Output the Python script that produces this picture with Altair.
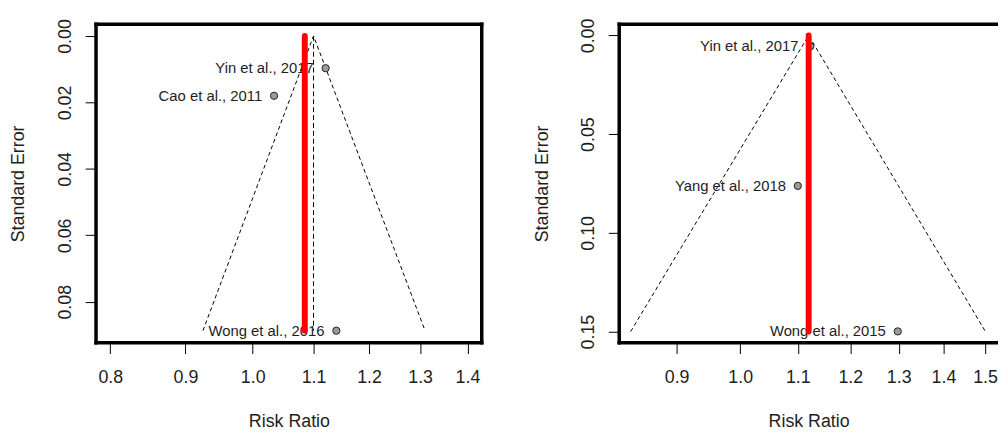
import altair as alt
import pandas as pd

FONT = "Liberation Sans"

# ---------------- Panel A ----------------
a_study = ["Yin et al., 2017", "Cao et al., 2011", "Wong et al., 2016"]
a_rr = [1.121, 1.034, 1.140]
a_se = [0.0097, 0.0180, 0.0887]
a_funnel_rr = [0.925, 1.100, 1.310]
a_funnel_se = [0.0887, 0.0, 0.0887]
a_center = 1.100
a_pooled = 1.085
a_semax = 0.0887
a_xticks = [0.8, 0.9, 1.0, 1.1, 1.2, 1.3, 1.4]
a_yticks = [0.00, 0.02, 0.04, 0.06, 0.08]

# ---------------- Panel B ----------------
b_study = ["Yin et al., 2017", "Yang et al., 2018", "Wong et al., 2015"]
b_rr = [1.123, 1.100, 1.298]
b_se = [0.0055, 0.0762, 0.1499]
b_funnel_rr = [0.834, 1.120, 1.501]
b_funnel_se = [0.150, 0.0, 0.150]
b_center = 1.120
b_pooled = 1.120
b_semax = 0.150
b_xticks = [0.9, 1.0, 1.1, 1.2, 1.3, 1.4, 1.5]
b_yticks = [0.00, 0.05, 0.10, 0.15]


def panel(study, rr, se, f_rr, f_se, center, pooled, semax,
          xdom, ydom, xticks, yticks, width, height, right_border=True):
    pts = pd.DataFrame({"study": study, "rr": rr, "se": se})
    fun = pd.DataFrame({"rr": f_rr, "se": f_se, "k": list(range(len(f_rr)))})
    ref = pd.DataFrame({"rr": [center], "s0": [0.0], "s1": [semax]})
    pool = pd.DataFrame({"rr": [pooled], "s0": [0.0], "s1": [semax]})

    xs = alt.Scale(type="log", domain=xdom, nice=False, zero=False)
    ys = alt.Scale(domain=ydom, reverse=True, nice=False, zero=False)
    xaxis = alt.Axis(values=xticks, format=".1f", title="Risk Ratio",
                     labelBaseline="top", labelPadding=15, labelFlush=False,
                     labelOverlap=False, titlePadding=27)
    yaxis = alt.Axis(values=yticks, format=".2f", title="Standard Error",
                     labelAngle=-90, labelAlign="center", labelBaseline="alphabetic",
                     labelPadding=15, labelFlush=False, labelOverlap=False,
                     titlePadding=29)

    funnel = alt.Chart(fun).mark_line(color="black", strokeWidth=1, strokeDash=[4, 3]).encode(
        x=alt.X("rr:Q", scale=xs, axis=xaxis),
        y=alt.Y("se:Q", scale=ys, axis=yaxis),
        order="k:Q",
    )
    vref = alt.Chart(ref).mark_rule(color="black", strokeWidth=1, strokeDash=[5, 3]).encode(
        x=alt.X("rr:Q", scale=xs), y=alt.Y("s0:Q", scale=ys), y2="s1:Q"
    )
    points = alt.Chart(pts).mark_point(filled=True, fill="#9a9a9a", stroke="#222222",
                                       strokeWidth=1, size=54, opacity=1).encode(
        x=alt.X("rr:Q", scale=xs), y=alt.Y("se:Q", scale=ys)
    )
    labels = alt.Chart(pts).mark_text(align="right", baseline="middle", dx=-12,
                                      font=FONT, fontSize=15, color="#1e1e1e").encode(
        x=alt.X("rr:Q", scale=xs), y=alt.Y("se:Q", scale=ys), text="study:N"
    )
    red = alt.Chart(pool).mark_rule(color="#ff0000", strokeWidth=6, strokeCap="round").encode(
        x=alt.X("rr:Q", scale=xs), y=alt.Y("s0:Q", scale=ys), y2="s1:Q"
    )

    bw = 3.5
    half = bw / 2
    xend = width + half if right_border else width
    top = alt.Chart(pool).mark_rule(color="black", strokeWidth=bw).encode(
        x=alt.value(-half), x2=alt.value(xend), y=alt.value(0))
    left = alt.Chart(pool).mark_rule(color="black", strokeWidth=bw).encode(
        x=alt.value(0), y=alt.value(-half), y2=alt.value(height + half))
    bottom = alt.Chart(pool).mark_rule(color="black", strokeWidth=bw).encode(
        x=alt.value(-half), x2=alt.value(xend), y=alt.value(height))
    border = [top, left, bottom]
    if right_border:
        border.append(alt.Chart(pool).mark_rule(color="black", strokeWidth=bw).encode(
            x=alt.value(width), y=alt.value(-half), y2=alt.value(height + half)))

    return alt.layer(funnel, vref, labels, points, red, *border).properties(
        width=width, height=height
    )


left_panel = panel(a_study, a_rr, a_se, a_funnel_rr, a_funnel_se, a_center, a_pooled, a_semax,
                   [0.7823, 1.4317], [-0.00355, 0.0923], a_xticks, a_yticks, 390, 322)
right_panel = panel(b_study, b_rr, b_se, b_funnel_rr, b_funnel_se, b_center, b_pooled, b_semax,
                    [0.8184, 1.5325], [-0.0057, 0.1556], b_xticks, b_yticks, 383, 322,
                    right_border=False)

chart = alt.hconcat(left_panel, right_panel, spacing=139, bounds="flush").properties(
    padding={"left": 2, "top": 7, "right": 0, "bottom": 0}
).configure_view(stroke=None).configure_axis(
    domain=False, grid=False, ticks=True, tickColor="black", tickSize=11, tickWidth=1,
    labelFont=FONT, labelFontSize=18, labelColor="#1e1e1e",
    titleFont=FONT, titleFontSize=18, titleFontWeight="normal", titleColor="#1e1e1e",
)

chart.save("out.html", embed_options={"renderer": "svg", "actions": False})
